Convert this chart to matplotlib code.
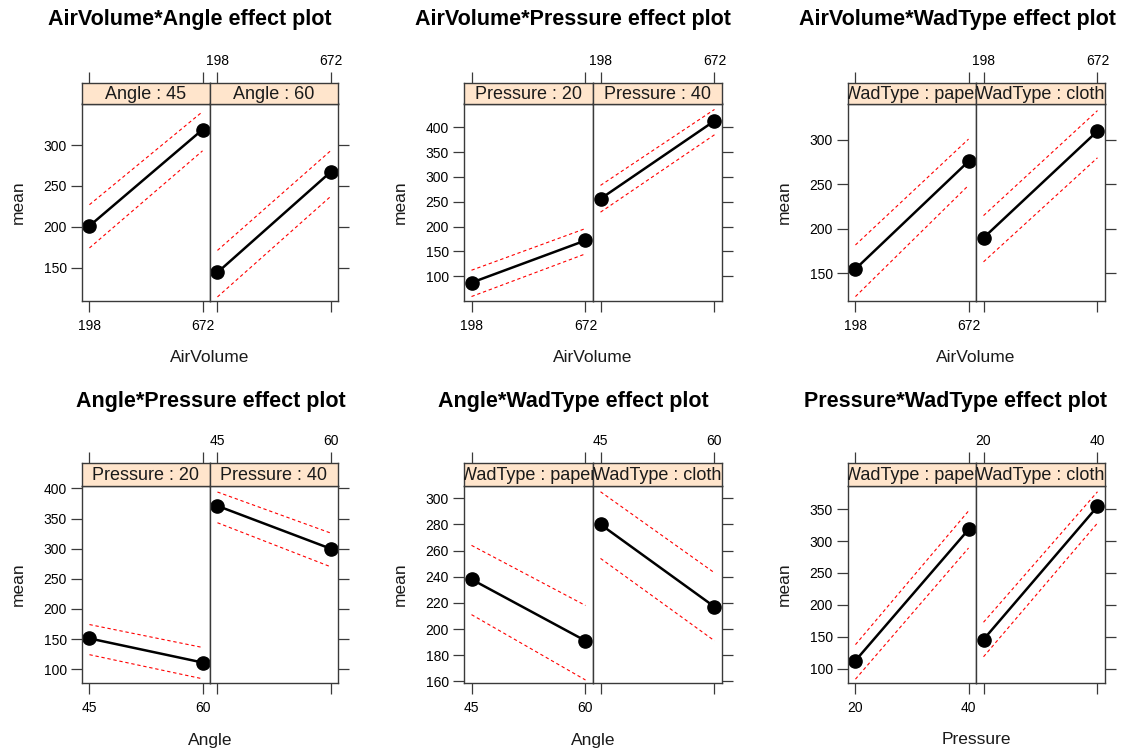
import matplotlib
matplotlib.use("Agg")
import matplotlib.pyplot as plt

plt.rcParams['font.family'] = ['Liberation Sans', 'DejaVu Sans']

W, H = 1128, 751

# ---- data ----
airvol_levels = [198, 672]
angle_levels = [45, 60]
pressure_levels = [20, 40]

# AirVolume*Angle
av_angle_groups = ["Angle : 45", "Angle : 60"]
av_angle_fit = [[201, 319], [144, 267]]
av_angle_hi = [[227, 341], [171, 293]]
av_angle_lo = [[174, 293], [114, 237]]

# AirVolume*Pressure
av_press_groups = ["Pressure : 20", "Pressure : 40"]
av_press_fit = [[87, 172], [256, 413]]
av_press_hi = [[112, 196], [283, 436]]
av_press_lo = [[59, 145], [229, 385]]

# AirVolume*WadType
av_wad_groups = ["WadType : paper", "WadType : cloth"]
av_wad_fit = [[155, 276], [190, 310]]
av_wad_hi = [[182, 301], [215, 333]]
av_wad_lo = [[124, 249], [163, 280]]

# Angle*Pressure
ang_press_groups = ["Pressure : 20", "Pressure : 40"]
ang_press_fit = [[151, 111], [371, 300]]
ang_press_hi = [[174, 136], [394, 326]]
ang_press_lo = [[124, 84], [343, 270]]

# Angle*WadType
ang_wad_groups = ["WadType : paper", "WadType : cloth"]
ang_wad_fit = [[238, 191], [280, 217]]
ang_wad_hi = [[264, 218], [305, 243]]
ang_wad_lo = [[211, 161], [254, 191]]

# Pressure*WadType
press_wad_groups = ["WadType : paper", "WadType : cloth"]
press_wad_fit = [[113, 318], [146, 354]]
press_wad_hi = [[138, 347], [173, 377]]
press_wad_lo = [[84, 289], [119, 328]]

STRIP_COL = '#ffe5cc'
FRAME_COL = '#3a3a3a'


def rect(x0, y0, x1, y1):
    return [x0 / W, 1 - y1 / H, (x1 - x0) / W, (y1 - y0) / H]


def effect_plot(fig, box, title, title_x, title_y, xlab, x, groups, fit, lo, hi,
                yticks, ylim):
    left, mid, right, strip_top, strip_bot, bottom = box
    d = x[1] - x[0]
    xlim = (x[0] - 0.066 * d, x[1] + 0.066 * d)
    for i, (x0, x1) in enumerate([(left, mid), (mid, right)]):
        ax = fig.add_axes(rect(x0, strip_bot, x1, bottom))
        st = fig.add_axes(rect(x0, strip_top, x1, strip_bot), sharex=ax)
        ax.plot(x, hi[i], color='red', lw=0.8, dashes=(3, 2.5))
        ax.plot(x, lo[i], color='red', lw=0.8, dashes=(3, 2.5))
        ax.plot(x, fit[i], color='black', lw=1.8, marker='o', markersize=9.5,
                clip_on=False)
        ax.set_xlim(xlim)
        ax.set_ylim(ylim)
        ax.set_xticks(x)
        ax.set_yticks(yticks)
        for a in (ax, st):
            for s in a.spines.values():
                s.set_color(FRAME_COL)
                s.set_linewidth(1.0)
        # strip
        st.set_facecolor(STRIP_COL)
        st.set_yticks([])
        st.text(0.5, 0.45, groups[i], transform=st.transAxes, ha='center',
                va='center', fontsize=13, color='#1a1a1a', clip_on=True)
        st.tick_params(axis='x', top=True, bottom=False, labelbottom=False,
                       labeltop=(i == 1), direction='out', length=8,
                       width=0.9, color=FRAME_COL, labelsize=10, pad=3)
        ax.tick_params(axis='x', bottom=True, top=False, labelbottom=(i == 0),
                       direction='out', length=8, width=0.9, color=FRAME_COL,
                       labelsize=10, pad=5)
        if i == 0:
            ax.tick_params(axis='y', left=True, right=False, labelleft=True,
                           direction='out', length=8, width=0.9,
                           color=FRAME_COL, labelsize=10, pad=3)
        else:
            ax.tick_params(axis='y', left=False, right=True, labelleft=False,
                           labelright=False, direction='out', length=8,
                           width=0.9, color=FRAME_COL)
    fig.text(title_x / W, 1 - title_y / H, title, ha='center', va='center',
             fontsize=15.5, fontweight='bold')
    fig.text(mid / W, 1 - (bottom + 57) / H, xlab, ha='center', va='center',
             fontsize=12.5, color='#1a1a1a')
    fig.text((left - 64) / W, 1 - ((strip_bot + bottom) / 2) / H, 'mean',
             rotation=90, ha='center', va='center', fontsize=12.5,
             color='#1a1a1a')


fig = plt.figure(figsize=(W / 100, H / 100), dpi=100)

top_row = (83, 103.5, 301)
bot_row = (463.5, 486, 683)
cols = [(82, 210, 338), (464, 593, 722), (848, 976, 1105)]

effect_plot(fig, cols[0] + top_row, "AirVolume*Angle effect plot", 190, 19,
            "AirVolume", airvol_levels, av_angle_groups, av_angle_fit,
            av_angle_lo, av_angle_hi, [150, 200, 250, 300], (109, 351))
effect_plot(fig, cols[1] + top_row, "AirVolume*Pressure effect plot", 573, 19,
            "AirVolume", airvol_levels, av_press_groups, av_press_fit,
            av_press_lo, av_press_hi, [100, 150, 200, 250, 300, 350, 400],
            (50, 448))
effect_plot(fig, cols[2] + top_row, "AirVolume*WadType effect plot", 957, 19,
            "AirVolume", airvol_levels, av_wad_groups, av_wad_fit,
            av_wad_lo, av_wad_hi, [150, 200, 250, 300], (119, 341))
effect_plot(fig, cols[0] + bot_row, "Angle*Pressure effect plot", 211, 401,
            "Angle", angle_levels, ang_press_groups, ang_press_fit,
            ang_press_lo, ang_press_hi, [100, 150, 200, 250, 300, 350, 400],
            (77, 404))
effect_plot(fig, cols[1] + bot_row, "Angle*WadType effect plot", 573, 401,
            "Angle", angle_levels, ang_wad_groups, ang_wad_fit,
            ang_wad_lo, ang_wad_hi, [160, 180, 200, 220, 240, 260, 280, 300],
            (158.7, 309.4))
effect_plot(fig, cols[2] + bot_row, "Pressure*WadType effect plot", 956, 401,
            "Pressure", pressure_levels, press_wad_groups, press_wad_fit,
            press_wad_lo, press_wad_hi, [100, 150, 200, 250, 300, 350],
            (78, 386))

fig.savefig("out.png", dpi=100)
